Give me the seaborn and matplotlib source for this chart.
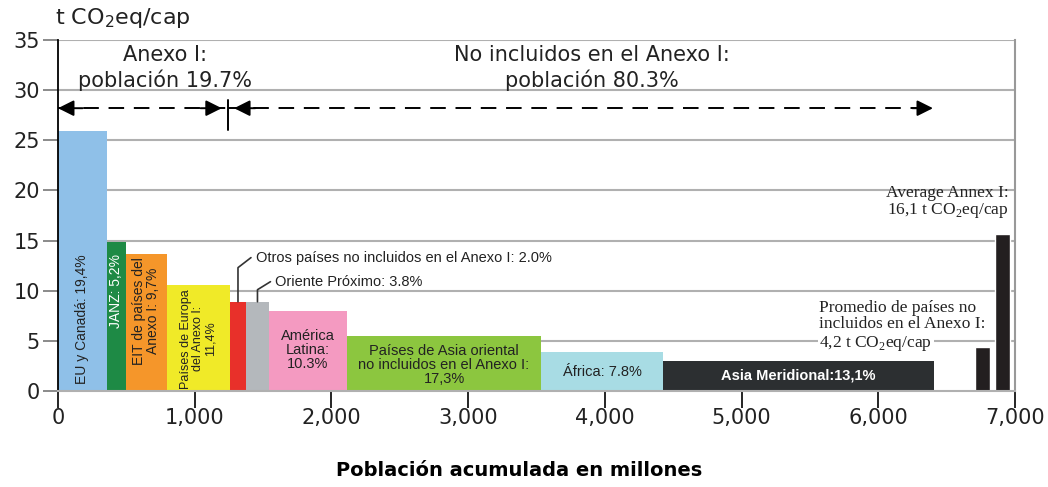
"""Emisiones per cápita frente a población acumulada (gráfico de anchos variables)."""

import matplotlib

matplotlib.use("Agg")

import matplotlib.pyplot as plt  # noqa: E402
import numpy as np  # noqa: E402
import seaborn as sns  # noqa: E402

sns.set_theme(style="white")
plt.rcParams["font.family"] = ["DejaVu Sans"]

# Regiones: población (millones), emisiones per cápita (t CO2eq/cap)
regions = [
    "EU y Canadá", "JANZ", "EIT", "Europa Anexo I", "Otros", "Oriente Próximo",
    "América Latina", "Asia oriental", "África", "Asia Meridional",
]
population = [358, 139, 300, 461, 117, 168, 571, 1419, 893, 1982]
per_capita = [25.9, 14.9, 13.7, 10.6, 8.9, 8.9, 8.0, 5.5, 3.9, 3.0]
colors = [
    "#8fc0e8", "#1e8a45", "#f5962a", "#f0ea28", "#e8302a", "#b4b8bc",
    "#f49ac1", "#8cc63f", "#a8dce4", "#2c2f31",
]

# Barras de promedio (posición en población, altura)
avg_x = [6708, 6854]
avg_w = [110, 110]
avg_h = [4.4, 15.7]

x_ticks = [0, 1000, 2000, 3000, 4000, 5000, 6000, 7000]
x_ticklabels = ["0", "1,000", "2,000", "3,000", "4,000", "5,000", "6,000", "7,000"]
y_ticks = [0, 5, 10, 15, 20, 25, 30, 35]

NARROW = ["Liberation Sans", "DejaVu Sans"]
SERIF = ["Liberation Serif", "DejaVu Serif"]

fig = plt.figure(figsize=(10.48, 4.87), dpi=100)
ax = fig.add_axes([58 / 1048, 1 - 391 / 487, (1015 - 58) / 1048, (391 - 40) / 487])

lefts = np.concatenate([[0], np.cumsum(population)[:-1]])
ax.bar(lefts, per_capita, width=population, align="edge", color=colors,
       edgecolor="none", zorder=2)
ax.bar(avg_x, avg_h, width=avg_w, align="edge", color="#231f20", zorder=2)

ax.set_xlim(0, 7000)
ax.set_ylim(0, 35)
ax.set_xticks(x_ticks)
ax.set_xticklabels(x_ticklabels, fontsize=15, color="#222222")
ax.set_yticks(y_ticks)
ax.set_yticklabels([str(v) for v in y_ticks], fontsize=15, color="#222222")
ax.tick_params(axis="x", direction="out", length=12, width=1.2, color="black",
               bottom=True, pad=0)
ax.tick_params(axis="y", direction="out", length=11, width=1.2, color="#777777",
               left=True, pad=2)
for y in y_ticks[1:]:
    ax.axhline(y, color="#b0b0b0", lw=1.5, zorder=1)
ax.spines["top"].set_visible(False)
ax.spines["left"].set_color("black")
ax.spines["left"].set_linewidth(1.3)
ax.spines["bottom"].set_color("#b0b0b0")
ax.spines["bottom"].set_linewidth(1.5)
ax.spines["right"].set_color("#999999")
ax.spines["right"].set_linewidth(1.5)

centers = lefts + np.array(population) / 2

# Etiquetas verticales dentro de las barras
vlabels = [
    (0, "EU y Canadá: 19,4%", 7.2, "#222222", 10),
    (1, "JANZ: 5,2%", 10.0, "white", 10),
    (2, "EIT de países del\nAnexo I: 9,7%", 8.0, "#222222", 10),
    (3, "Países de Europa\ndel Anexo I:\n11,4%", 5.2, "#222222", 9),
]
for i, txt, y, c, fs in vlabels:
    ax.text(centers[i], y, txt, rotation=90, ha="center", va="center",
            fontsize=fs, color=c, family=NARROW, linespacing=1.0, zorder=3)

# Etiquetas horizontales
hlabels = [
    (6, "América\nLatina:\n10.3%", 4.1, "#222222", "normal"),
    (7, "Países de Asia oriental\nno incluidos en el Anexo I:\n17,3%", 2.6,
     "#222222", "normal"),
    (8, "África: 7.8%", 1.9, "#222222", "normal"),
    (9, "Asia Meridional:13,1%", 1.5, "white", "bold"),
]
for i, txt, y, c, w in hlabels:
    ax.text(centers[i], y, txt, ha="center", va="center", fontsize=10.5,
            color=c, family=NARROW, fontweight=w, linespacing=1.0, zorder=3)

# Llamadas con línea guía
callouts = [
    (4, "Otros países no incluidos en el Anexo I: 2.0%", 12.3, 13.3),
    (5, "Oriente Próximo: 3.8%", 10.1, 10.9),
]
for i, txt, y_knee, y_text in callouts:
    cx = centers[i]
    ax.plot([cx, cx, cx + 95], [per_capita[i], y_knee, y_text],
            color="#333333", lw=1.2, zorder=3)
    ax.text(cx + 130, y_text, txt, ha="left", va="center", fontsize=10.5,
            family=NARROW, color="#222222", zorder=3)

# Flechas de población (Anexo I / no Anexo I)
split = 1243
arrow_y = 28.2
arrow_end = 6400
ax.plot([0, split], [arrow_y, arrow_y], color="black", lw=1.4,
        ls=(0, (8, 5)), zorder=3)
ax.plot([split, arrow_end], [arrow_y, arrow_y], color="black", lw=1.4,
        ls=(0, (8, 5)), zorder=3)
head = dict(arrowstyle="-|>", color="black", lw=1.4, mutation_scale=24,
            shrinkA=0, shrinkB=0)
for tip, tail in [(0, 180), (split - 45, split - 200), (split + 45, split + 200),
                  (arrow_end, arrow_end - 150)]:
    ax.annotate("", xy=(tip, arrow_y), xytext=(tail, arrow_y),
                arrowprops=head, zorder=4)
ax.plot([split, split], [26.0, 29.0], color="black", lw=1.4, zorder=3)

ax.text(783, 32.2, "Anexo I:\npoblación 19.7%", ha="center", va="center",
        fontsize=15, color="#222222", linespacing=1.25)
ax.text(3906, 32.2, "No incluidos en el Anexo I:\npoblación 80.3%", ha="center",
        va="center", fontsize=15, color="#222222", linespacing=1.25)

# Textos de promedio
ax.text(6950, 17.1, "Average Annex I:\n16,1 t CO$_\\mathregular{2}$eq/cap",
        ha="right", va="bottom", fontsize=12.5, family=SERIF, color="#222222",
        linespacing=0.95, zorder=3)
ax.text(5570, 5.9, "Promedio de países no\nincluidos en el Anexo I:",
        ha="left", va="bottom", fontsize=12.5, family=SERIF, color="#222222",
        linespacing=0.95, zorder=3)
ax.text(5570, 4.75, "4,2 t CO$_\\mathregular{2}$eq/cap",
        ha="left", va="center", fontsize=12.5, family=SERIF, color="#222222",
        zorder=3, bbox=dict(facecolor="white", edgecolor="none", pad=1))

fig.text(55 / 1048, 1 - 18 / 487, "t CO$_\\mathregular{2}$eq/cap", fontsize=16,
         ha="left", va="center", color="#222222")
fig.text(519 / 1048, 1 - 471 / 487,
         "Población acumulada en millones", fontsize=14, fontweight="bold",
         ha="center", va="center", color="black")

fig.savefig("out.png", dpi=100)
